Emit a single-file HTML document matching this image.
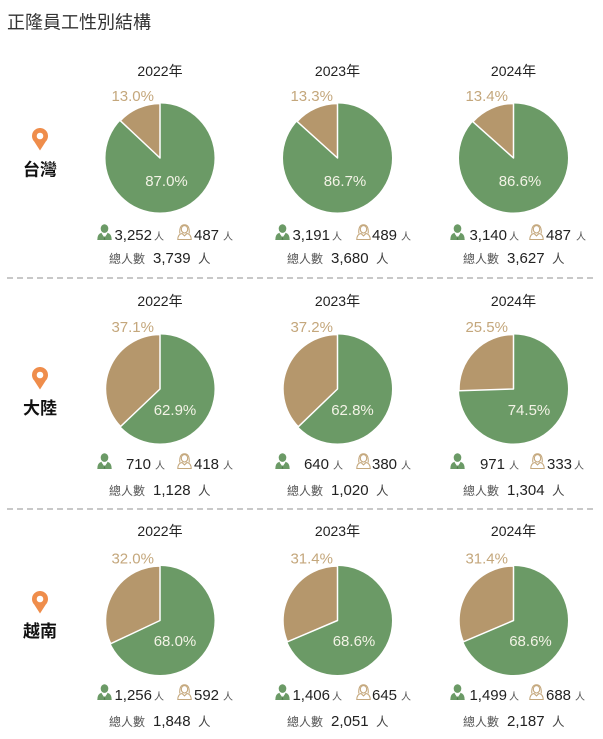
<!DOCTYPE html>
<html><head><meta charset="utf-8"><style>
html,body{margin:0;padding:0;background:#fff;}
svg{display:block;}
text{font-family:"Liberation Sans","Noto Sans CJK TC",sans-serif;}
</style></head><body>
<svg width="603" height="739" viewBox="0 0 603 739" xmlns="http://www.w3.org/2000/svg">
<defs>
<symbol id="m" viewBox="0 0 15 16">
<ellipse cx="7.5" cy="4.6" rx="3.8" ry="4.3" fill="#6b9a66"/>
<path d="M0.3,16 Q0.3,9.6 4.8,8.8 L7.5,12.5 L10.2,8.8 Q14.7,9.6 14.7,16 Z" fill="#6b9a66"/>
<path d="M5,9.1 L7.5,12.7 L10,9.1" fill="none" stroke="#fff" stroke-width="1.1"/>
<path d="M7.5,11.6 L6.7,15.6 L8.3,15.6 Z" fill="#4f7a4b"/>
</symbol>
<symbol id="f" viewBox="0 0 15 16">
<path d="M2.8,9.5 Q2.2,0.8 7.5,0.8 Q12.8,0.8 12.2,9.5" fill="none" stroke="#c4a77c" stroke-width="1.1"/>
<ellipse cx="7.5" cy="5.3" rx="3.2" ry="3.7" fill="none" stroke="#c4a77c" stroke-width="1.1"/>
<path d="M0.8,15.5 Q0.8,10.3 5,9.5 L7.5,11.9 L10,9.5 Q14.2,10.3 14.2,15.5 Z" fill="none" stroke="#c4a77c" stroke-width="1.1"/>
</symbol>
<symbol id="pin" viewBox="0 0 16 23">
<path d="M8,22.5 L2.2,13.5 A8,8 0 1 1 13.8,13.5 Z" fill="#ef8d4b"/>
<circle cx="8" cy="8" r="3.3" fill="#fff"/>
</symbol>
</defs>

<text x="7" y="28.5" font-size="18" fill="#333">正隆員工性別結構</text>

<line x1="7" y1="278" x2="597" y2="278" stroke="#b5b5b5" stroke-width="1.5" stroke-dasharray="6 4"/>
<line x1="7" y1="509" x2="597" y2="509" stroke="#b5b5b5" stroke-width="1.5" stroke-dasharray="6 4"/>

<use href="#pin" x="32" y="128" width="16" height="23"/>
<text x="40" y="175.5" font-size="17" font-weight="bold" fill="#111" text-anchor="middle">台灣</text>
<use href="#pin" x="32" y="367" width="16" height="23"/>
<text x="40" y="414" font-size="17" font-weight="bold" fill="#111" text-anchor="middle">大陸</text>
<use href="#pin" x="32" y="591" width="16" height="23"/>
<text x="40" y="637" font-size="17" font-weight="bold" fill="#111" text-anchor="middle">越南</text>

<!-- ROW 1 -->
<g>
<text x="160" y="76" font-size="14" fill="#222" text-anchor="middle">2022年</text>
<circle cx="160" cy="158" r="54.5" fill="#6b9a66"/>
<path d="M160,158 L160,103.5 A54.5,54.5 0 0 0 120.27,120.69 Z" fill="#b5976c" stroke="#fff" stroke-width="1.5" stroke-linejoin="round"/>
<text x="154" y="101" font-size="15" fill="#c4a77c" text-anchor="end">13.0%</text>
<text x="166.5" y="186" font-size="15" fill="#f3f3e6" text-anchor="middle">87.0%</text>
<use href="#m" x="97" y="224" width="15" height="16"/>
<text x="152" y="240" font-size="15" fill="#222" text-anchor="end">3,252</text>
<text x="154" y="240" font-size="10" fill="#555">人</text>
<use href="#f" x="177" y="224" width="15" height="16"/>
<text x="194" y="240" font-size="15" fill="#222">487<tspan dx="4" font-size="10" fill="#555">人</tspan></text>
<text x="109" y="263" font-size="12" fill="#555">總人數</text>
<text x="153" y="263" font-size="15" fill="#222">3,739</text>
<text x="198" y="263" font-size="12.5" fill="#444">人</text>
</g>
<g>
<text x="337.5" y="76" font-size="14" fill="#222" text-anchor="middle">2023年</text>
<circle cx="337.5" cy="158" r="54.5" fill="#6b9a66"/>
<path d="M337.5,158 L337.5,103.5 A54.5,54.5 0 0 0 297.07,121.45 Z" fill="#b5976c" stroke="#fff" stroke-width="1.5" stroke-linejoin="round"/>
<text x="333" y="101" font-size="15" fill="#c4a77c" text-anchor="end">13.3%</text>
<text x="345" y="186" font-size="15" fill="#f3f3e6" text-anchor="middle">86.7%</text>
<use href="#m" x="275" y="224" width="15" height="16"/>
<text x="330" y="240" font-size="15" fill="#222" text-anchor="end">3,191</text>
<text x="332" y="240" font-size="10" fill="#555">人</text>
<use href="#f" x="356" y="224" width="15" height="16"/>
<text x="372" y="240" font-size="15" fill="#222">489<tspan dx="4" font-size="10" fill="#555">人</tspan></text>
<text x="287" y="263" font-size="12" fill="#555">總人數</text>
<text x="331" y="263" font-size="15" fill="#222">3,680</text>
<text x="376" y="263" font-size="12.5" fill="#444">人</text>
</g>
<g>
<text x="513.5" y="76" font-size="14" fill="#222" text-anchor="middle">2024年</text>
<circle cx="513.5" cy="158" r="54.5" fill="#6b9a66"/>
<path d="M513.5,158 L513.5,103.5 A54.5,54.5 0 0 0 472.84,121.71 Z" fill="#b5976c" stroke="#fff" stroke-width="1.5" stroke-linejoin="round"/>
<text x="508" y="101" font-size="15" fill="#c4a77c" text-anchor="end">13.4%</text>
<text x="520" y="186" font-size="15" fill="#f3f3e6" text-anchor="middle">86.6%</text>
<use href="#m" x="450" y="224" width="15" height="16"/>
<text x="507" y="240" font-size="15" fill="#222" text-anchor="end">3,140</text>
<text x="509" y="240" font-size="10" fill="#555">人</text>
<use href="#f" x="529" y="224" width="15" height="16"/>
<text x="546" y="240" font-size="15" fill="#222">487<tspan dx="5" font-size="10" fill="#555">人</tspan></text>
<text x="463" y="263" font-size="12" fill="#555">總人數</text>
<text x="507" y="263" font-size="15" fill="#222">3,627</text>
<text x="552" y="263" font-size="12.5" fill="#444">人</text>
</g>

<!-- ROW 2 -->
<g>
<text x="160" y="306" font-size="14" fill="#222" text-anchor="middle">2022年</text>
<circle cx="160" cy="389" r="54.5" fill="#6b9a66"/>
<path d="M160,389 L160,334.5 A54.5,54.5 0 0 0 120.49,426.54 Z" fill="#b5976c" stroke="#fff" stroke-width="1.5" stroke-linejoin="round"/>
<text x="154" y="332" font-size="15" fill="#c4a77c" text-anchor="end">37.1%</text>
<text x="175" y="415" font-size="15" fill="#f3f3e6" text-anchor="middle">62.9%</text>
<use href="#m" x="97" y="453" width="15" height="16"/>
<text x="151" y="469" font-size="15" fill="#222" text-anchor="end">710</text>
<text x="155" y="469" font-size="10" fill="#555">人</text>
<use href="#f" x="177" y="453" width="15" height="16"/>
<text x="194" y="469" font-size="15" fill="#222">418<tspan dx="4" font-size="10" fill="#555">人</tspan></text>
<text x="109" y="495" font-size="12" fill="#555">總人數</text>
<text x="153" y="495" font-size="15" fill="#222">1,128</text>
<text x="198" y="495" font-size="12.5" fill="#444">人</text>
</g>
<g>
<text x="337.5" y="306" font-size="14" fill="#222" text-anchor="middle">2023年</text>
<circle cx="337.5" cy="389" r="54.5" fill="#6b9a66"/>
<path d="M337.5,389 L337.5,334.5 A54.5,54.5 0 0 0 298.24,426.8 Z" fill="#b5976c" stroke="#fff" stroke-width="1.5" stroke-linejoin="round"/>
<text x="333" y="332" font-size="15" fill="#c4a77c" text-anchor="end">37.2%</text>
<text x="352.5" y="415" font-size="15" fill="#f3f3e6" text-anchor="middle">62.8%</text>
<use href="#m" x="275" y="453" width="15" height="16"/>
<text x="329" y="469" font-size="15" fill="#222" text-anchor="end">640</text>
<text x="333" y="469" font-size="10" fill="#555">人</text>
<use href="#f" x="356" y="453" width="15" height="16"/>
<text x="372" y="469" font-size="15" fill="#222">380<tspan dx="4" font-size="10" fill="#555">人</tspan></text>
<text x="287" y="495" font-size="12" fill="#555">總人數</text>
<text x="331" y="495" font-size="15" fill="#222">1,020</text>
<text x="376" y="495" font-size="12.5" fill="#444">人</text>
</g>
<g>
<text x="513.5" y="306" font-size="14" fill="#222" text-anchor="middle">2024年</text>
<circle cx="513.5" cy="389" r="54.5" fill="#6b9a66"/>
<path d="M513.5,389 L513.5,334.5 A54.5,54.5 0 0 0 459.03,390.71 Z" fill="#b5976c" stroke="#fff" stroke-width="1.5" stroke-linejoin="round"/>
<text x="508" y="332" font-size="15" fill="#c4a77c" text-anchor="end">25.5%</text>
<text x="529" y="415" font-size="15" fill="#f3f3e6" text-anchor="middle">74.5%</text>
<use href="#m" x="450" y="453" width="15" height="16"/>
<text x="505" y="469" font-size="15" fill="#222" text-anchor="end">971</text>
<text x="509" y="469" font-size="10" fill="#555">人</text>
<use href="#f" x="530" y="453" width="15" height="16"/>
<text x="547" y="469" font-size="15" fill="#222">333<tspan dx="2" font-size="10" fill="#555">人</tspan></text>
<text x="463" y="495" font-size="12" fill="#555">總人數</text>
<text x="507" y="495" font-size="15" fill="#222">1,304</text>
<text x="552" y="495" font-size="12.5" fill="#444">人</text>
</g>

<!-- ROW 3 -->
<g>
<text x="160" y="536" font-size="14" fill="#222" text-anchor="middle">2022年</text>
<circle cx="160" cy="620.5" r="54.5" fill="#6b9a66"/>
<path d="M160,620.5 L160,566 A54.5,54.5 0 0 0 110.69,643.71 Z" fill="#b5976c" stroke="#fff" stroke-width="1.5" stroke-linejoin="round"/>
<text x="154" y="563.5" font-size="15" fill="#c4a77c" text-anchor="end">32.0%</text>
<text x="175" y="646" font-size="15" fill="#f3f3e6" text-anchor="middle">68.0%</text>
<use href="#m" x="97" y="684" width="15" height="16"/>
<text x="152" y="700" font-size="15" fill="#222" text-anchor="end">1,256</text>
<text x="154" y="700" font-size="10" fill="#555">人</text>
<use href="#f" x="177" y="684" width="15" height="16"/>
<text x="194" y="700" font-size="15" fill="#222">592<tspan dx="4" font-size="10" fill="#555">人</tspan></text>
<text x="109" y="726" font-size="12" fill="#555">總人數</text>
<text x="153" y="726" font-size="15" fill="#222">1,848</text>
<text x="198" y="726" font-size="12.5" fill="#444">人</text>
</g>
<g>
<text x="337.5" y="536" font-size="14" fill="#222" text-anchor="middle">2023年</text>
<circle cx="337.5" cy="620.5" r="54.5" fill="#6b9a66"/>
<path d="M337.5,620.5 L337.5,566 A54.5,54.5 0 0 0 287.34,641.83 Z" fill="#b5976c" stroke="#fff" stroke-width="1.5" stroke-linejoin="round"/>
<text x="333" y="563.5" font-size="15" fill="#c4a77c" text-anchor="end">31.4%</text>
<text x="354" y="646" font-size="15" fill="#f3f3e6" text-anchor="middle">68.6%</text>
<use href="#m" x="275" y="684" width="15" height="16"/>
<text x="330" y="700" font-size="15" fill="#222" text-anchor="end">1,406</text>
<text x="332" y="700" font-size="10" fill="#555">人</text>
<use href="#f" x="356" y="684" width="15" height="16"/>
<text x="372" y="700" font-size="15" fill="#222">645<tspan dx="4" font-size="10" fill="#555">人</tspan></text>
<text x="287" y="726" font-size="12" fill="#555">總人數</text>
<text x="331" y="726" font-size="15" fill="#222">2,051</text>
<text x="376" y="726" font-size="12.5" fill="#444">人</text>
</g>
<g>
<text x="513.5" y="536" font-size="14" fill="#222" text-anchor="middle">2024年</text>
<circle cx="513.5" cy="620.5" r="54.5" fill="#6b9a66"/>
<path d="M513.5,620.5 L513.5,566 A54.5,54.5 0 0 0 463.34,641.83 Z" fill="#b5976c" stroke="#fff" stroke-width="1.5" stroke-linejoin="round"/>
<text x="508" y="563.5" font-size="15" fill="#c4a77c" text-anchor="end">31.4%</text>
<text x="530.5" y="646" font-size="15" fill="#f3f3e6" text-anchor="middle">68.6%</text>
<use href="#m" x="450" y="684" width="15" height="16"/>
<text x="507" y="700" font-size="15" fill="#222" text-anchor="end">1,499</text>
<text x="509" y="700" font-size="10" fill="#555">人</text>
<use href="#f" x="529" y="684" width="15" height="16"/>
<text x="546" y="700" font-size="15" fill="#222">688<tspan dx="4" font-size="10" fill="#555">人</tspan></text>
<text x="463" y="726" font-size="12" fill="#555">總人數</text>
<text x="507" y="726" font-size="15" fill="#222">2,187</text>
<text x="552" y="726" font-size="12.5" fill="#444">人</text>
</g>
</svg>
</body></html>
